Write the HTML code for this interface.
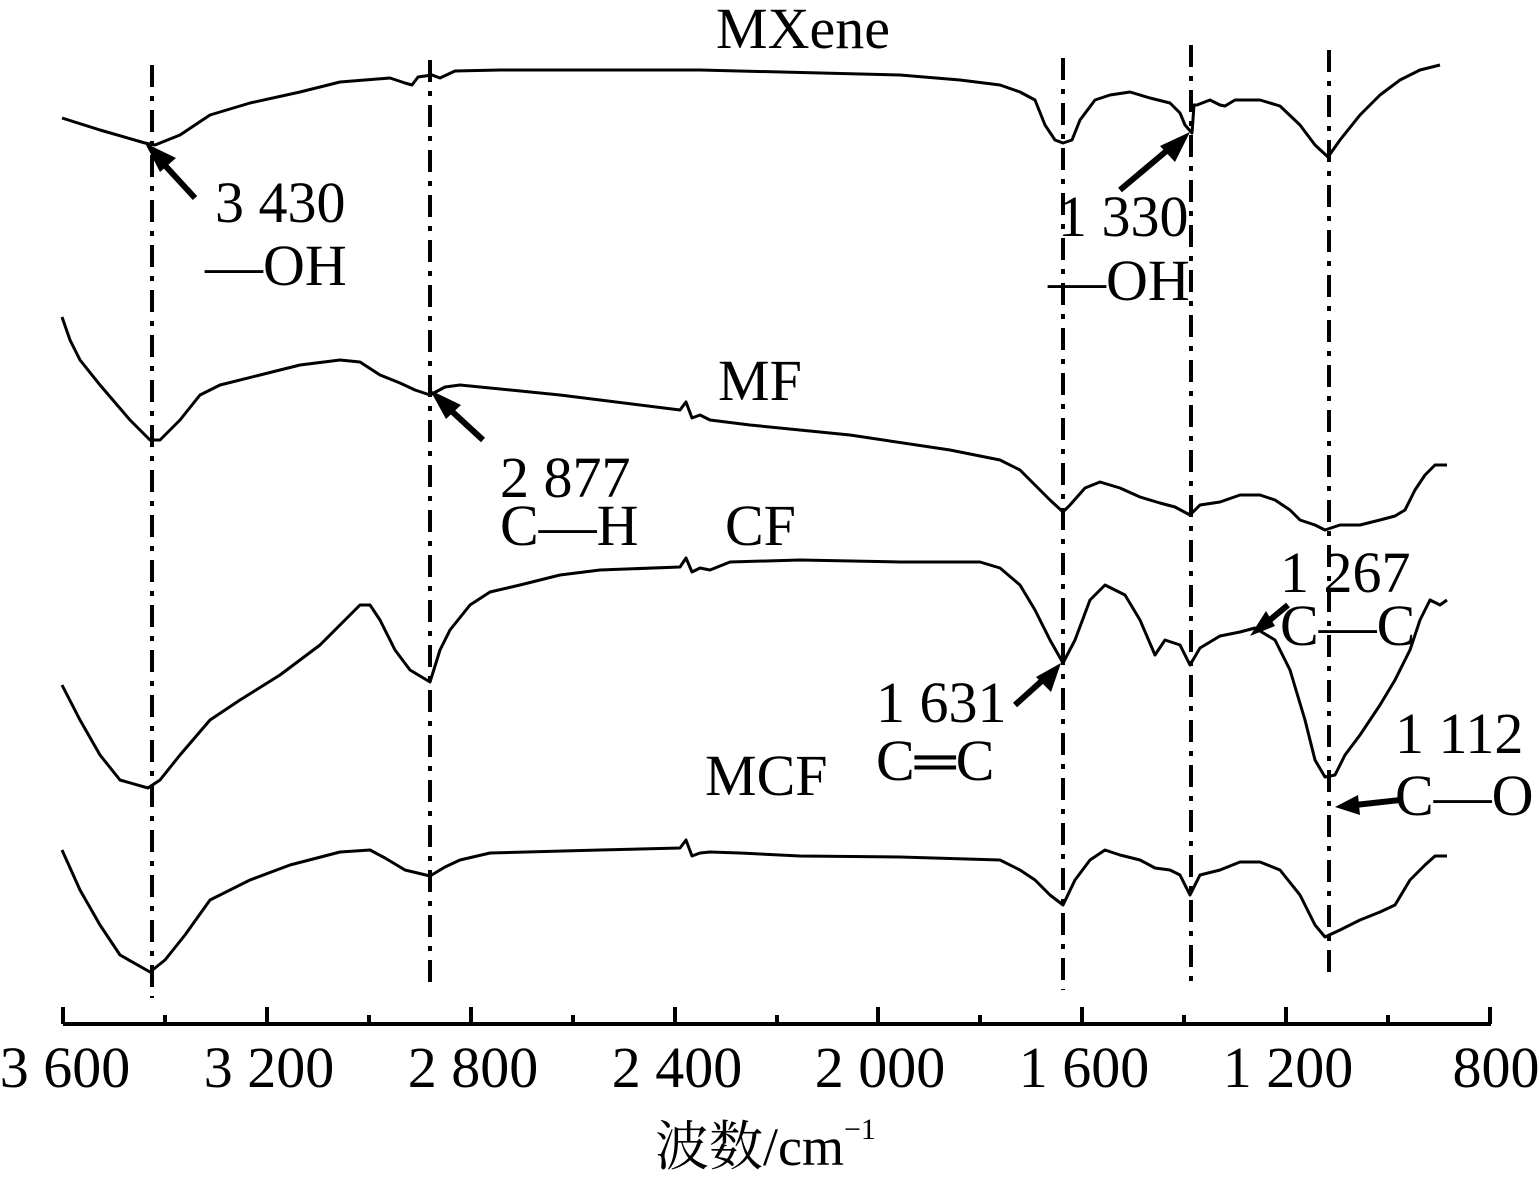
<!DOCTYPE html>
<html><head><meta charset="utf-8"><style>
html,body{margin:0;padding:0;background:#fff}
svg{display:block}
text{font-family:"Liberation Serif","Noto Serif CJK SC",serif;fill:#000}
</style></head><body>
<svg width="1540" height="1183" viewBox="0 0 1540 1183">
<g fill="none" stroke="#000" stroke-width="3" stroke-linejoin="round">
<polyline points="62,118 100,130 145,143 155,145 180,135 210,115 250,103 300,92 340,82 390,78 405,83 412,85 418,77 432,75 440,78 455,71 500,70 700,70 900,75 960,80 1000,85 1020,92 1035,100 1045,125 1055,140 1063,143 1072,140 1080,120 1095,100 1110,95 1130,92 1150,98 1170,103 1180,113 1185,125 1192,133 1194,105 1197,105 1210,100 1220,105 1225,106 1235,100 1260,100 1280,106 1300,125 1315,145 1328,157 1340,140 1360,115 1380,95 1400,80 1420,70 1440,65"/>
<polyline points="62,317 70,340 80,360 100,385 130,420 150,440 160,440 180,420 200,395 220,385 260,375 300,365 340,360 360,362 380,375 400,383 415,390 430,395 445,387 460,385 560,395 680,410 686,402 692,418 700,415 710,420 750,425 850,435 950,450 1000,460 1020,470 1035,485 1050,500 1063,512 1070,505 1085,488 1100,482 1120,488 1140,497 1160,503 1175,507 1190,515 1200,505 1220,502 1240,495 1260,495 1275,500 1290,510 1300,520 1315,525 1325,530 1340,525 1360,525 1380,520 1395,516 1405,510 1415,490 1425,475 1435,465 1447,465"/>
<polyline points="62,685 80,720 100,755 120,780 148,788 160,780 180,755 210,720 240,700 280,675 320,645 345,620 360,605 370,605 380,620 395,650 410,670 430,682 440,650 450,630 470,605 490,592 520,585 560,575 600,570 680,567 686,558 692,572 700,568 710,570 730,562 800,560 900,562 980,562 1000,568 1020,585 1035,610 1050,640 1063,663 1075,640 1090,600 1105,585 1125,595 1140,620 1155,655 1165,640 1180,645 1190,665 1200,648 1220,636 1240,632 1255,628 1275,640 1290,670 1305,720 1315,760 1325,777 1335,775 1345,755 1360,735 1380,705 1395,680 1410,650 1420,620 1430,600 1440,605 1447,600"/>
<polyline points="62,850 80,890 100,925 120,955 150,972 165,960 185,935 210,900 250,880 290,865 340,852 370,850 385,858 405,870 430,876 445,867 460,860 490,853 600,850 680,848 686,840 692,856 700,853 710,852 740,853 800,856 900,857 1000,860 1020,870 1035,880 1050,895 1063,905 1075,880 1090,860 1105,850 1120,855 1140,860 1155,868 1170,870 1180,875 1190,895 1200,875 1220,870 1240,862 1260,862 1280,870 1300,895 1315,925 1325,937 1340,930 1360,920 1380,912 1395,905 1410,880 1425,865 1435,856 1447,856"/>
</g>
<g stroke="#000" stroke-width="4" stroke-dasharray="22,9,5,9">
<line x1="152" y1="65" x2="152" y2="998"/>
<line x1="430" y1="60" x2="430" y2="990"/>
<line x1="1063" y1="58" x2="1063" y2="990"/>
<line x1="1191" y1="45" x2="1191" y2="985"/>
<line x1="1329" y1="50" x2="1329" y2="975"/>
</g>
<g stroke="#000" stroke-width="4">
<line x1="63" y1="1024" x2="1491" y2="1024"/>
<line x1="63" y1="1007" x2="63" y2="1024"/><line x1="165" y1="1015" x2="165" y2="1024"/>
<line x1="267" y1="1007" x2="267" y2="1024"/><line x1="369" y1="1015" x2="369" y2="1024"/>
<line x1="471" y1="1007" x2="471" y2="1024"/><line x1="573" y1="1015" x2="573" y2="1024"/>
<line x1="675" y1="1007" x2="675" y2="1024"/><line x1="777" y1="1015" x2="777" y2="1024"/>
<line x1="878" y1="1007" x2="878" y2="1024"/><line x1="980" y1="1015" x2="980" y2="1024"/>
<line x1="1082" y1="1007" x2="1082" y2="1024"/><line x1="1184" y1="1015" x2="1184" y2="1024"/>
<line x1="1286" y1="1007" x2="1286" y2="1024"/><line x1="1388" y1="1015" x2="1388" y2="1024"/>
<line x1="1490" y1="1007" x2="1490" y2="1024"/>
</g>
<g stroke="#000" stroke-width="6" fill="#000">
<line x1="195" y1="198" x2="160" y2="160"/><polygon points="145,143 176,158 160,172" stroke="none"/>
<line x1="483" y1="440" x2="445" y2="405"/><polygon points="430,390 461,405 446,419" stroke="none"/>
<line x1="1120" y1="190" x2="1170" y2="148"/><polygon points="1190,132 1175,162 1160,146" stroke="none"/>
<line x1="1015" y1="705" x2="1045" y2="678"/><polygon points="1061,663 1051,692 1036,677" stroke="none"/>
<line x1="1288" y1="605" x2="1265" y2="624"/><polygon points="1250,636 1266,611 1275,626" stroke="none"/>
<line x1="1400" y1="800" x2="1355" y2="805"/><polygon points="1335,807 1358,795 1360,815" stroke="none"/>
</g>
<g font-size="58">
<text x="803" y="48" text-anchor="middle">MXene</text>
<text x="215" y="222">3 430</text>
<text x="205" y="285">—OH</text>
<text x="1058" y="236">1 330</text>
<text x="1048" y="300">—OH</text>
<text x="718" y="400">MF</text>
<text x="500" y="497">2 877</text>
<text x="500" y="545">C—H</text>
<text x="725" y="545">CF</text>
<text x="1280" y="592">1 267</text>
<text x="1280" y="645">C—C</text>
<text x="876" y="722">1 631</text>
<text x="876" y="780">C═C</text>
<text x="1395" y="753">1 112</text>
<text x="1395" y="815">C—O</text>
<text x="705" y="795">MCF</text>
</g>
<g font-size="58" text-anchor="middle">
<text x="65" y="1087">3 600</text>
<text x="269" y="1087">3 200</text>
<text x="473" y="1087">2 800</text>
<text x="677" y="1087">2 400</text>
<text x="880" y="1087">2 000</text>
<text x="1084" y="1087">1 600</text>
<text x="1288" y="1087">1 200</text>
<text x="1496" y="1087">800</text>
</g>
<text x="655" y="1165" font-size="54">波数/cm<tspan font-size="30" dy="-26">−1</tspan></text>
</svg>
</body></html>
